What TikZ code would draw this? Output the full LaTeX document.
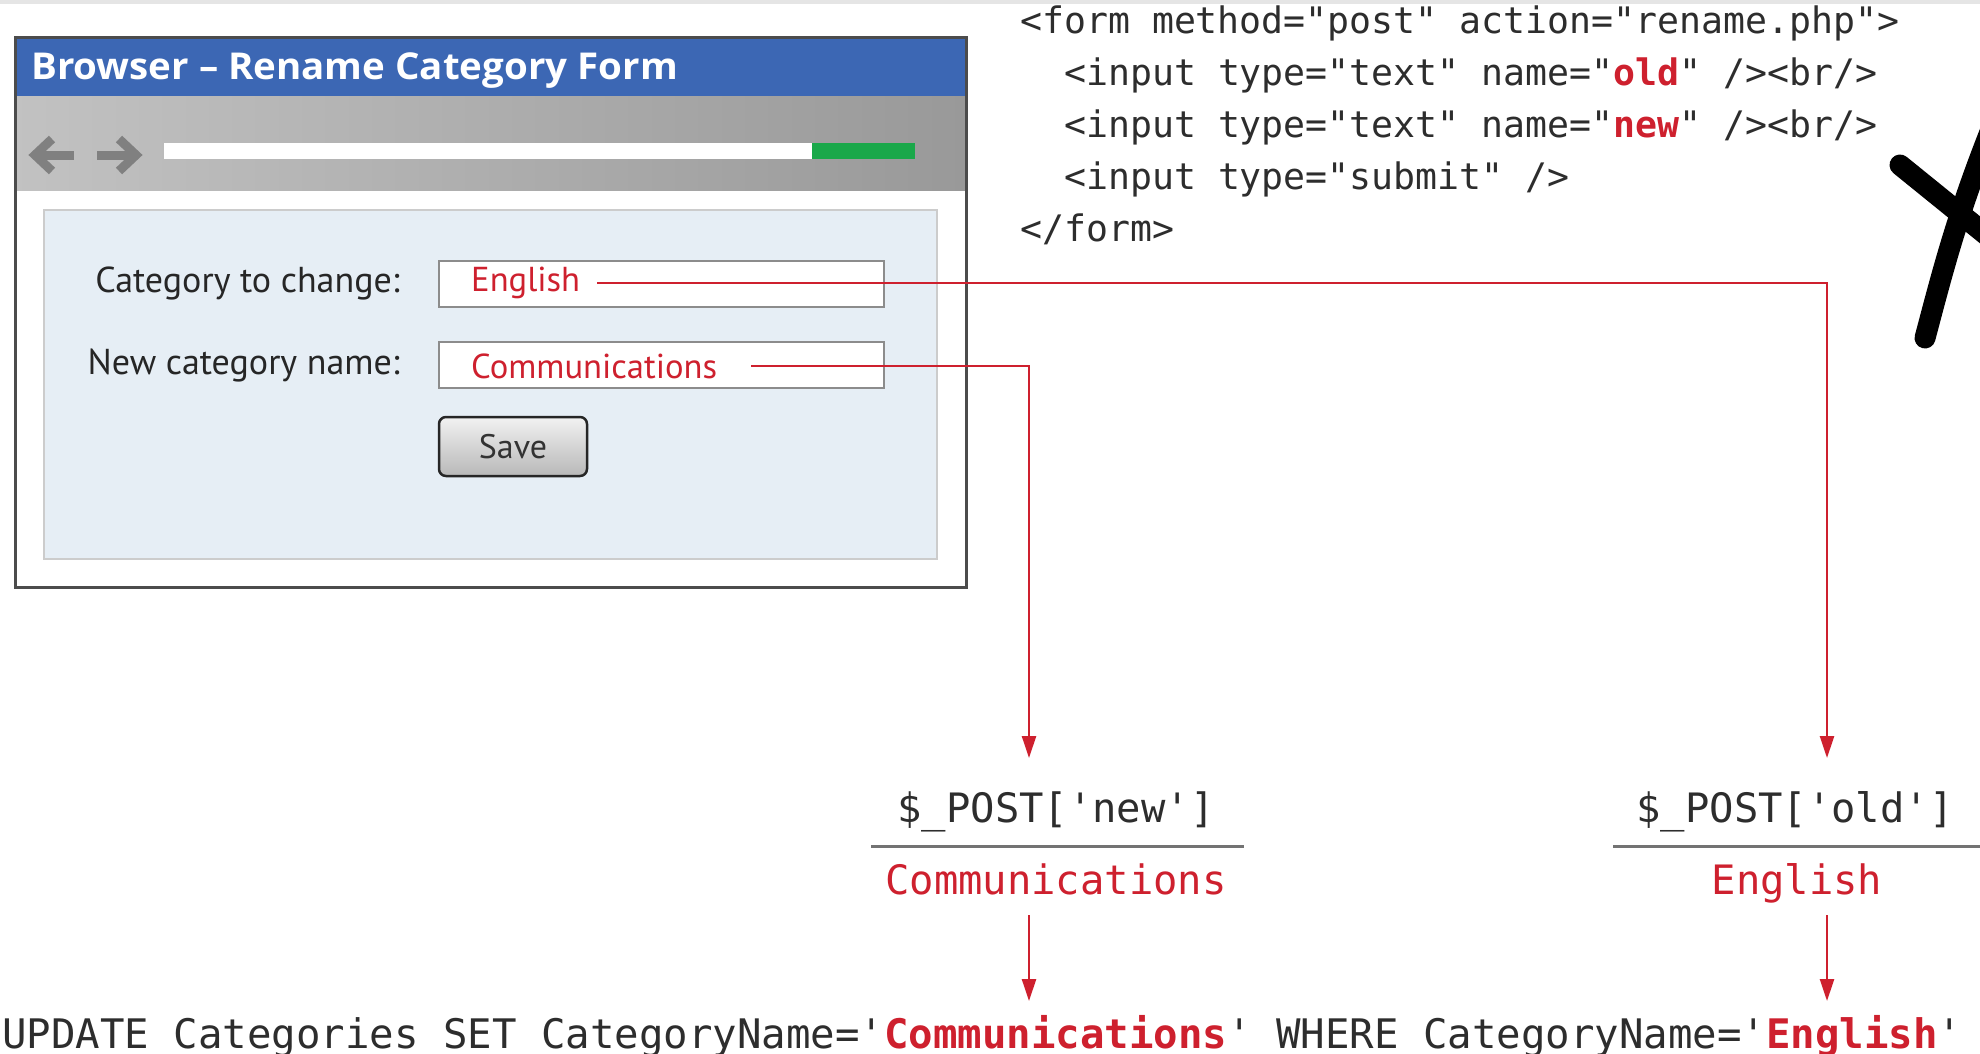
\documentclass[tikz,border=0pt]{standalone}
\usepackage{fontspec}
\setmainfont{PT Sans}
\setmonofont{DejaVu Sans Mono}
\newfontfamily\titlefont[FakeStretch=1.04]{Open Sans}
\usetikzlibrary{arrows.meta}
\definecolor{cred}{RGB}{206,32,46}
\definecolor{titleblue}{RGB}{60,103,180}
\definecolor{panelblue}{RGB}{230,238,245}
\definecolor{cgreen}{RGB}{26,168,74}
\definecolor{codegray}{RGB}{45,45,45}
\definecolor{navgray}{RGB}{128,128,128}
\tikzset{
  ui/.style={inner sep=0pt, font=\fontsize{36}{42}\selectfont, text=black!85},
  uired/.style={inner sep=0pt, font=\fontsize{34.6}{40}\selectfont, text=cred},
  code/.style={inner sep=0pt, anchor=base west, font=\ttfamily\fontsize{36.5}{44}\selectfont, text=codegray},
  bigcode/.style={inner sep=0pt, anchor=base, font=\ttfamily\fontsize{40.5}{48}\selectfont, text=codegray},
  inputbox/.style={draw=black!45, line width=2pt, fill=white, inner sep=0pt, minimum width=445pt, minimum height=46pt},
  redline/.style={draw=cred, line width=2.5pt},
  redarrow/.style={redline, -{Triangle[length=22pt,width=14pt]}},
  navarrow/.style={draw=navgray, line width=9pt},
  rule/.style={draw=black!55, line width=3pt},
  xstroke/.style={black, line width=21pt, line cap=round}
}
\begin{document}
\begin{tikzpicture}[x=1pt,y=-1pt]
\useasboundingbox (0,0) rectangle (1980,1054);
\fill[white] (0,0) rectangle (1980,1054);
\fill[black!10] (0,0) rectangle (1980,4);
% browser window
\node[fill=white, draw=black!70, line width=3pt, minimum width=951pt, minimum height=549pt, inner sep=0pt] (win) at (490.5,312.5) {};
\fill[titleblue] (15,38) rectangle (966,97);
\shade[left color=black!24, right color=black!40] (15,97) rectangle (966,190);
\node[inner sep=0pt, anchor=base west, text=white, font=\titlefont\bfseries\fontsize{37}{44}\selectfont] (title) at (31,80) {Browser – Rename Category Form};
\draw[navarrow] (74,155) -- (36,155);
\draw[navarrow, line join=miter] (52,139) -- (35,155) -- (52,171);
\draw[navarrow] (97,155) -- (135,155);
\draw[navarrow, line join=miter] (119,139) -- (136,155) -- (119,171);
\fill[white] (164,143) rectangle (812,159);
\fill[cgreen] (812,143) rectangle (915,159);
\draw[draw=black!70, line width=3pt] (15,38) rectangle (966,587);
% form panel
\node[fill=panelblue, draw=black!20, line width=1.5pt, minimum width=893pt, minimum height=349pt, inner sep=0pt] (panel) at (490.5,384.5) {};
\node[ui, anchor=east] (lab1) at (400,283) {Category to change:};
\node[ui, anchor=east] (lab2) at (400,366) {New category name:};
\node[inputbox] (box1) at (661.5,283.5) {};
\node[inputbox] (box2) at (661.5,364.5) {};
\node[uired, anchor=west] (engtxt) at (471,283) {English};
\node[uired, anchor=west] (comtxt) at (471,366) {Communications};
\node[draw=black!85, line width=2.5pt, rounded corners=7pt, top color=black!5, bottom color=black!28, minimum width=148pt, minimum height=59pt, inner sep=0pt] (save) at (513,446.5) {};
\node[ui, font=\fontsize{34}{40}\selectfont, text=black!80] (savetxt) at (513,447) {Save};
% code
\node[code] (c1) at (1020,34) {<form method="post" action="rename.php">};
\node[code] (c2) at (1064,86) {<input type="text" name="\textcolor{cred}{\textbf{old}}" /><br/>};
\node[code] (c3) at (1064,137) {<input type="text" name="\textcolor{cred}{\textbf{new}}" /><br/>};
\node[code] (c4) at (1064,189) {<input type="submit" />};
\node[code] (c5) at (1020,241) {</form>};
% post values
\node[bigcode] (postnew) at (1056,822) {\$\_POST['new']};
\node[bigcode, text=cred] (valnew) at (1056,894) {Communications};
\node[bigcode] (postold) at (1795,822) {\$\_POST['old']};
\node[bigcode, text=cred] (valold) at (1797,894) {English};
\coordinate (rn1) at (871,846);
\coordinate (rn2) at (1244,846);
\coordinate (ro1) at (1613,846);
\coordinate (ro2) at (1990,846);
\draw[rule] (rn1) -- (rn2);
\draw[rule] (ro1) -- (ro2);
% sql
\node[inner sep=0pt, anchor=base west, font=\ttfamily\fontsize{40.7}{48}\selectfont, text=codegray] (sql) at (2,1048) {UPDATE Categories SET CategoryName='\textcolor{cred}{\textbf{Communications}}' WHERE CategoryName='\textcolor{cred}{\textbf{English}}'};
% connectors
\coordinate (newtip) at (1029,758);
\coordinate (oldtip) at (1827,758);
\draw[redarrow] ([xshift=17pt]engtxt.east) -| (oldtip);
\draw[redarrow] ([xshift=34pt]comtxt.east) -| (newtip);
\coordinate (n1) at (1029,915);
\coordinate (n2) at (1029,1001);
\coordinate (o1) at (1827,915);
\coordinate (o2) at (1827,1001);
\draw[redarrow] (n1) -- (n2);
\draw[redarrow] (o1) -- (o2);
% hand-drawn X
\draw[xstroke] (1900,165) -- (2000,246);
\draw[xstroke] (1925,338) .. controls (1943,270) and (1958,210) .. (1998,112);
\end{tikzpicture}
\end{document}
